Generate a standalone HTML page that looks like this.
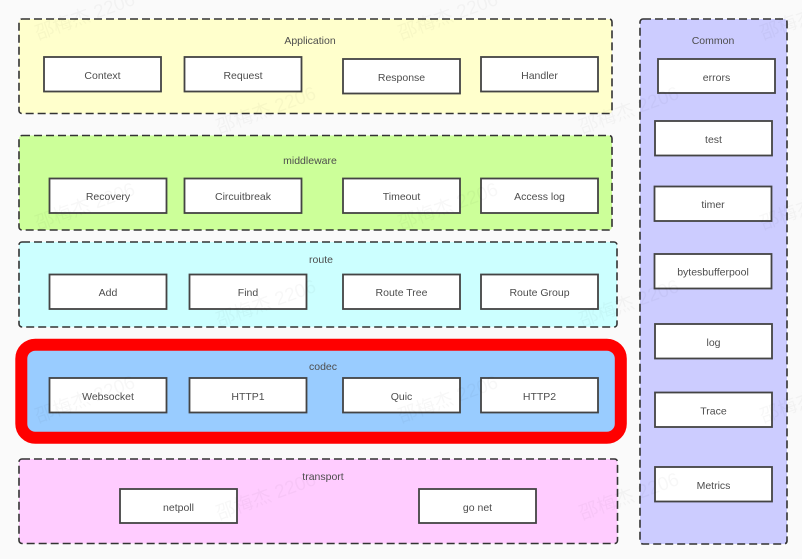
<!DOCTYPE html>
<html>
<head>
<meta charset="utf-8">
<style>
html,body{margin:0;padding:0;background:#fafafa;}
svg{display:block;}
.g{stroke:#333;stroke-width:1.6;stroke-dasharray:8 4;}
.b{fill:#fff;stroke:#444;stroke-width:1.8;}
text{font-family:"Liberation Sans","Noto Sans CJK SC",sans-serif;font-size:10.5px;fill:#4d4d4d;text-anchor:middle;}
.w{font-size:19px;fill:#000;fill-opacity:.03;text-anchor:start;}
</style>
</head>
<body>
<svg width="802" height="559" viewBox="0 0 802 559" xmlns="http://www.w3.org/2000/svg">
<rect width="802" height="559" fill="#fafafa"/>

<rect class="g" x="19" y="19" width="593" height="94.5" rx="3" fill="#ffffcc"/>
<rect class="g" x="19" y="135.500" width="593" height="94.5" rx="3" fill="#ccff99"/>
<rect class="g" x="19" y="242" width="598" height="85" rx="3" fill="#ccffff"/>
<rect x="21.300" y="344.700" width="599.500" height="93" rx="14" fill="#99ccff" stroke="#ff0000" stroke-width="12"/>
<rect class="g" x="19" y="459" width="598.500" height="84.500" rx="3" fill="#ffccff"/>
<rect class="g" x="640" y="19" width="147" height="525" rx="3" fill="#ccccff"/>

<text x="310" y="44">Application</text>
<text x="310" y="164">middleware</text>
<text x="321" y="263">route</text>
<text x="323" y="370">codec</text>
<text x="323" y="480">transport</text>
<text x="713" y="44">Common</text>

<rect class="b" x="44" y="57" width="117" height="34.500"/><text x="102.500" y="79">Context</text>
<rect class="b" x="184.500" y="57" width="117" height="34.500"/><text x="243" y="79">Request</text>
<rect class="b" x="343" y="59" width="117" height="34.500"/><text x="401.500" y="81">Response</text>
<rect class="b" x="481" y="57" width="117" height="34.500"/><text x="539.500" y="79">Handler</text>

<rect class="b" x="49.500" y="178.500" width="117" height="34.500"/><text x="108" y="200">Recovery</text>
<rect class="b" x="184.500" y="178.500" width="117" height="34.500"/><text x="243" y="200">Circuitbreak</text>
<rect class="b" x="343" y="178.500" width="117" height="34.500"/><text x="401.500" y="200">Timeout</text>
<rect class="b" x="481" y="178.500" width="117" height="34.500"/><text x="539.500" y="200">Access log</text>

<rect class="b" x="49.500" y="274.500" width="117" height="34.500"/><text x="108" y="296">Add</text>
<rect class="b" x="189.500" y="274.500" width="117" height="34.500"/><text x="248" y="296">Find</text>
<rect class="b" x="343" y="274.500" width="117" height="34.500"/><text x="401.500" y="296">Route Tree</text>
<rect class="b" x="481" y="274.500" width="117" height="34.500"/><text x="539.500" y="296">Route Group</text>

<rect class="b" x="49.500" y="378" width="117" height="34.500"/><text x="108" y="400">Websocket</text>
<rect class="b" x="189.500" y="378" width="117" height="34.500"/><text x="248" y="400">HTTP1</text>
<rect class="b" x="343" y="378" width="117" height="34.500"/><text x="401.500" y="400">Quic</text>
<rect class="b" x="481" y="378" width="117" height="34.500"/><text x="539.500" y="400">HTTP2</text>

<rect class="b" x="120" y="489" width="117" height="34"/><text x="178.500" y="511">netpoll</text>
<rect class="b" x="419" y="489" width="117" height="34"/><text x="477.500" y="511">go net</text>

<rect class="b" x="658" y="59" width="117" height="34"/><text x="716.500" y="81">errors</text>
<rect class="b" x="655" y="121" width="117" height="34.500"/><text x="713.500" y="143">test</text>
<rect class="b" x="654.500" y="186.500" width="117" height="34.500"/><text x="713" y="208">timer</text>
<rect class="b" x="654.500" y="254" width="117" height="34.500"/><text x="713" y="275.500">bytesbufferpool</text>
<rect class="b" x="655" y="324" width="117" height="34.500"/><text x="713.500" y="346">log</text>
<rect class="b" x="655" y="392.500" width="117" height="34.500"/><text x="713.500" y="414.500">Trace</text>
<rect class="b" x="655" y="467" width="117" height="34.500"/><text x="713.500" y="489">Metrics</text>

<g>
<text class="w" transform="translate(38 40) rotate(-20)">邵梅杰 2206</text>
<text class="w" transform="translate(401 40) rotate(-20)">邵梅杰 2206</text>
<text class="w" transform="translate(763 40) rotate(-20)">邵梅杰 2206</text>
<text class="w" transform="translate(219 134) rotate(-20)">邵梅杰 2206</text>
<text class="w" transform="translate(582 134) rotate(-20)">邵梅杰 2206</text>
<text class="w" transform="translate(38 230) rotate(-20)">邵梅杰 2206</text>
<text class="w" transform="translate(401 230) rotate(-20)">邵梅杰 2206</text>
<text class="w" transform="translate(763 230) rotate(-20)">邵梅杰 2206</text>
<text class="w" transform="translate(219 327) rotate(-20)">邵梅杰 2206</text>
<text class="w" transform="translate(582 327) rotate(-20)">邵梅杰 2206</text>
<text class="w" transform="translate(38 423) rotate(-20)">邵梅杰 2206</text>
<text class="w" transform="translate(401 423) rotate(-20)">邵梅杰 2206</text>
<text class="w" transform="translate(763 423) rotate(-20)">邵梅杰 2206</text>
<text class="w" transform="translate(219 520) rotate(-20)">邵梅杰 2206</text>
<text class="w" transform="translate(582 520) rotate(-20)">邵梅杰 2206</text>
</g>
</svg>
</body>
</html>
